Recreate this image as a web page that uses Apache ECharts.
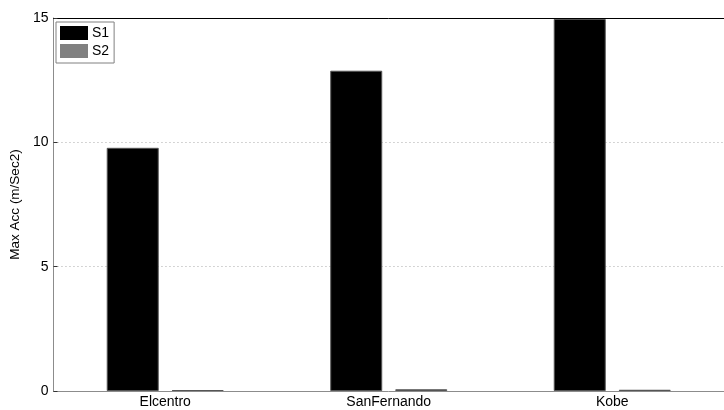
<!DOCTYPE html>
<html>
<head>
<meta charset="utf-8">
<script src="https://cdn.jsdelivr.net/npm/echarts@6/dist/echarts.min.js"></script>
<style>html,body{margin:0;padding:0;background:#fff}#c{width:724px;height:410px}</style>
</head>
<body>
<div id="c"></div>
<script>
const categories = ["Elcentro", "SanFernando", "Kobe"];
const s1Values = [9.78, 12.88, 14.96];
const s2Values = [0.04, 0.07, 0.05];
const yTicks = [0, 5, 10, 15];

const chart = echarts.init(document.getElementById('c'), null, {renderer: 'canvas'});
const font = 'Liberation Sans, Arial, sans-serif';
chart.setOption({
  animation: false,
  backgroundColor: '#fff',
  grid: {left: 51, right: -12, top: 18, bottom: 19, containLabel: false},
  legend: {
    orient: 'vertical', left: 56, top: 22,
    itemWidth: 28, itemHeight: 14, itemGap: 4,
    padding: [4, 5, 5, 4],
    borderColor: '#808080', borderWidth: 1, backgroundColor: '#fff',
    itemStyle: {borderWidth: 0},
    textStyle: {fontFamily: font, fontSize: 14, color: '#000', padding: [0, 0, 0, -1]},
    data: [{name: 'S1', icon: 'rect'}, {name: 'S2', icon: 'rect'}]
  },
  xAxis: [{
    type: 'category', data: categories, position: 'bottom',
    axisLine: {lineStyle: {color: '#8c8c8c', width: 1}},
    axisTick: {alignWithLabel: true, inside: true, length: 5, lineStyle: {color: '#333'}},
    axisLabel: {fontFamily: font, fontSize: 14, color: '#000', margin: 4}
  }, {
    type: 'category', data: categories, position: 'top',
    axisLine: {lineStyle: {color: '#000', width: 1}},
    axisTick: {alignWithLabel: true, inside: true, length: 5, lineStyle: {color: '#333'}},
    axisLabel: {show: false}
  }],
  yAxis: {
    type: 'value', min: 0, max: 15, interval: 5,
    name: 'Max Acc (m/Sec2)', nameLocation: 'middle', nameGap: 23,
    nameTextStyle: {fontFamily: font, fontSize: 13.5, color: '#000'},
    axisLine: {show: true, lineStyle: {color: '#8c8c8c'}},
    axisTick: {show: true, inside: true, length: 4, lineStyle: {color: '#333'}},
    axisLabel: {fontFamily: font, fontSize: 14, color: '#000', margin: 5,
      formatter: v => yTicks.includes(v) ? String(v) : ''},
    splitLine: {show: true, lineStyle: {color: '#aaa', type: [1, 3], width: 1}}
  },
  series: [{
    name: 'S1', type: 'bar', data: s1Values, barWidth: 52, barGap: '25%',
    itemStyle: {color: '#000', borderColor: '#555', borderWidth: 1}
  }, {
    name: 'S2', type: 'bar', data: s2Values, barWidth: 52, barGap: '25%',
    itemStyle: {color: '#808080', borderColor: '#555', borderWidth: 1}
  }]
});
</script>
</body>
</html>
